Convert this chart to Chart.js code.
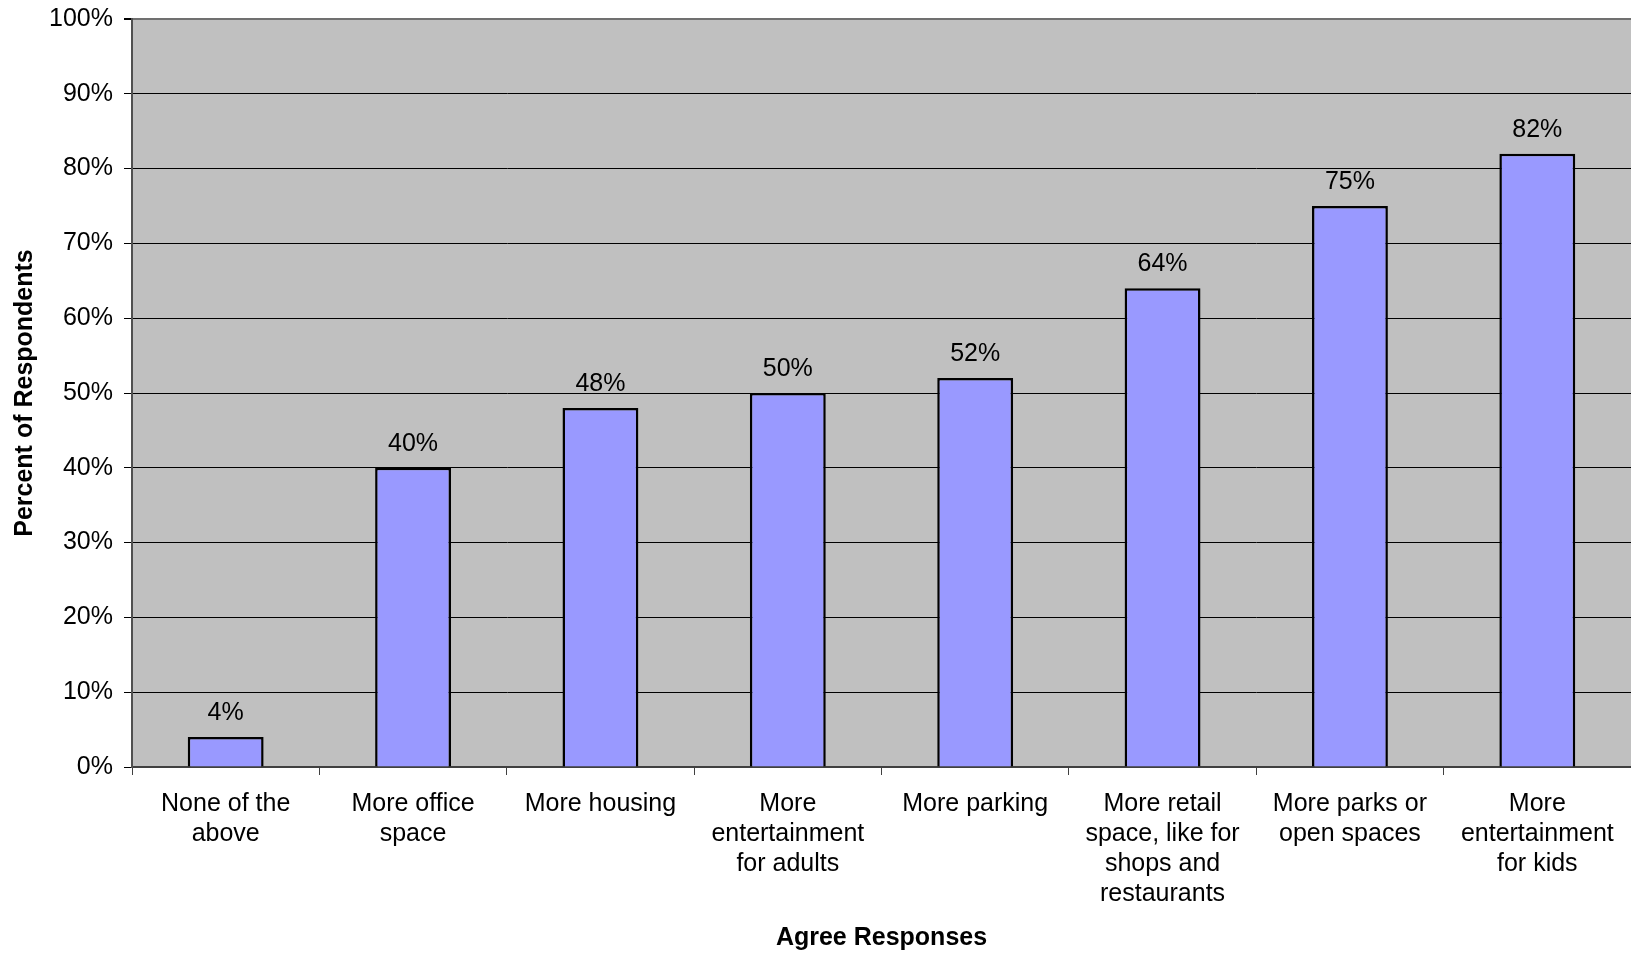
<!DOCTYPE html>
<html>
<head>
<meta charset="utf-8">
<script src="https://cdn.jsdelivr.net/npm/chart.js@4"></script>
<style>
  html, body { margin: 0; padding: 0; background: #fff; }
  canvas { display: block; }
</style>
</head>
<body>
<canvas id="agreeChart" width="1631" height="953"></canvas>
<script>
// categories and values
const categories = [
  ['None of the', 'above'],
  ['More office', 'space'],
  ['More housing'],
  ['More', 'entertainment', 'for adults'],
  ['More parking'],
  ['More retail', 'space, like for', 'shops and', 'restaurants'],
  ['More parks or', 'open spaces'],
  ['More', 'entertainment', 'for kids']
];
const agreeValues = [4, 40, 48, 50, 52, 64, 75, 82];
const yTickValues = [0, 10, 20, 30, 40, 50, 60, 70, 80, 90, 100];

const FONT = '"Liberation Sans", Arial, sans-serif';

// grey plot area
const plotBackground = {
  id: 'plotBackground',
  beforeDraw(chart) {
    const { ctx, chartArea: a } = chart;
    ctx.save();
    ctx.fillStyle = '#C0C0C0';
    ctx.fillRect(a.left, a.top, a.right - a.left, a.bottom - a.top);
    ctx.restore();
  }
};

// value labels above the bars
const valueLabels = {
  id: 'valueLabels',
  afterDatasetsDraw(chart) {
    const { ctx } = chart;
    const meta = chart.getDatasetMeta(0);
    ctx.save();
    ctx.font = '25px ' + FONT;
    ctx.fillStyle = '#000';
    ctx.textAlign = 'center';
    ctx.textBaseline = 'alphabetic';
    meta.data.forEach((bar, i) => {
      ctx.fillText(agreeValues[i] + '%', bar.x, bar.y - 17);
    });
    ctx.restore();
  }
};

new Chart(document.getElementById('agreeChart'), {
  type: 'bar',
  data: {
    labels: categories,
    datasets: [{
      data: agreeValues,
      backgroundColor: '#9999FF',
      borderColor: '#000',
      borderWidth: 2.5,
      barPercentage: 0.405,
      categoryPercentage: 1
    }]
  },
  options: {
    responsive: false,
    animation: false,
    layout: { padding: { top: 19, right: 0, left: 0, bottom: 0 } },
    plugins: {
      legend: { display: false },
      tooltip: { enabled: false }
    },
    scales: {
      x: {
        offset: true,
        grid: {
          offset: true,
          drawOnChartArea: false,
          drawTicks: true,
          tickLength: 8,
          color: '#404040'
        },
        border: { color: '#404040', width: 2 },
        ticks: {
          color: '#000',
          font: { family: FONT, size: 25, lineHeight: 1.2 },
          maxRotation: 0,
          autoSkip: false,
          padding: 14
        },
        title: {
          display: true,
          text: 'Agree Responses',
          color: '#000',
          font: { family: FONT, size: 25, weight: 'bold' },
          padding: { top: 0, bottom: 0 }
        },
        afterFit(scale) {
          scale.height = 186;
          scale.paddingLeft = 0;
          scale.paddingRight = 0;
        }
      },
      y: {
        min: 0,
        max: 100,
        afterBuildTicks(scale) {
          scale.ticks = yTickValues.map(v => ({ value: v }));
        },
        grid: {
          color: ctx => ctx.tick && ctx.tick.value === 100 ? '#707070' : '#000',
          lineWidth: ctx => ctx.tick && ctx.tick.value === 100 ? 2 : 1,
          tickLength: 8,
          tickColor: '#000'
        },
        border: { color: '#505050', width: 2 },
        ticks: {
          color: '#000',
          font: { family: FONT, size: 25 },
          padding: 11,
          callback: v => v + '%'
        },
        title: {
          display: true,
          text: 'Percent of Respondents',
          color: '#000',
          font: { family: FONT, size: 25, weight: 'bold' },
          padding: { top: 10, bottom: 0 }
        },
        afterFit(scale) {
          scale.width = 132;
          scale.paddingTop = 0;
          scale.paddingBottom = 0;
        }
      }
    }
  },
  plugins: [plotBackground, valueLabels]
});
</script>
</body>
</html>
